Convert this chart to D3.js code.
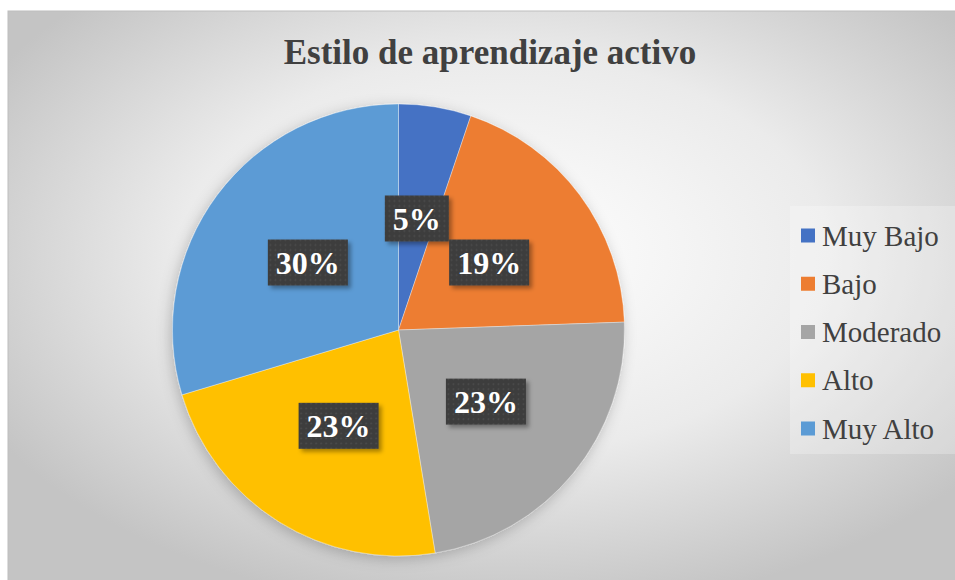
<!DOCTYPE html>
<html>
<head>
<meta charset="utf-8">
<script src="https://cdn.jsdelivr.net/npm/d3@7"></script>
<style>
  body { margin: 0; background: #fff; }
  svg { display: block; }
</style>
</head>
<body>
<svg></svg>
<script>
const categories = ["Muy Bajo", "Bajo", "Moderado", "Alto", "Muy Alto"];
const counts = [7, 26, 31, 31, 40];
const colors = ["#4472C4", "#ED7D31", "#A5A5A5", "#FFC000", "#5B9BD5"];
const title = "Estilo de aprendizaje activo";

const W = 955, H = 580;
const svg = d3.select("svg").attr("width", W).attr("height", H);
const defs = svg.append("defs");

// background gradient
const bg = defs.append("radialGradient").attr("id", "bg")
  .attr("cx", "52%").attr("cy", "42%").attr("r", "62%");
bg.append("stop").attr("offset", "0%").attr("stop-color", "#ffffff");
bg.append("stop").attr("offset", "55%").attr("stop-color", "#ebebeb");
bg.append("stop").attr("offset", "100%").attr("stop-color", "#c4c4c4");

const dots = defs.append("pattern").attr("id", "dots")
  .attr("width", 5).attr("height", 5).attr("patternUnits", "userSpaceOnUse");
dots.append("rect").attr("width", 5).attr("height", 5).attr("fill", "#3c3c3c");
dots.append("circle").attr("cx", 2.5).attr("cy", 2.5).attr("r", 1).attr("fill", "#4d4d4d");

const pieShadow = defs.append("filter").attr("id", "pieShadow")
  .attr("x", "-20%").attr("y", "-20%").attr("width", "140%").attr("height", "140%");
pieShadow.append("feDropShadow").attr("dx", -2).attr("dy", 3)
  .attr("stdDeviation", 7).attr("flood-color", "#000").attr("flood-opacity", 0.22);

const boxShadow = defs.append("filter").attr("id", "boxShadow")
  .attr("x", "-20%").attr("y", "-20%").attr("width", "150%").attr("height", "160%");
boxShadow.append("feDropShadow").attr("dx", 3).attr("dy", 3)
  .attr("stdDeviation", 2).attr("flood-color", "#000").attr("flood-opacity", 0.35);

svg.append("rect")
  .attr("x", 8).attr("y", 11).attr("width", W).attr("height", H)
  .attr("fill", "url(#bg)")
  .attr("stroke", "#bdbdbd").attr("stroke-width", 1);

svg.append("text")
  .attr("x", 490).attr("y", 64)
  .attr("text-anchor", "middle")
  .style("font-family", "'Liberation Serif', 'Times New Roman', serif")
  .style("font-weight", "bold")
  .style("font-size", "35px")
  .style("fill", "#404040")
  .text(title);

const cx = 398.5, cy = 330, radius = 226;
const total = d3.sum(counts);

const pie = d3.pie().sort(null).value(d => d)(counts);
const arc = d3.arc().innerRadius(0).outerRadius(radius);
const labelArc = d3.arc().innerRadius(radius * 0.5).outerRadius(radius * 0.5);

const g = svg.append("g").attr("transform", `translate(${cx},${cy})`);

g.append("g").attr("filter", "url(#pieShadow)")
  .selectAll("path")
  .data(pie)
  .enter().append("path")
  .attr("d", arc)
  .attr("fill", (d, i) => colors[i])
  .attr("stroke", "rgba(255,255,255,0.35)")
  .attr("stroke-width", 1);

const labels = g.selectAll(".lbl")
  .data(pie)
  .enter().append("g")
  .attr("class", "lbl")
  .attr("transform", d => `translate(${labelArc.centroid(d)})`);

labels.each(function(d) {
  const el = d3.select(this);
  const txt = Math.round(d.value / total * 100) + "%";
  const t = el.append("text")
    .attr("text-anchor", "middle")
    .attr("dy", "0.35em")
    .style("font-family", "'Liberation Serif', 'Times New Roman', serif")
    .style("font-weight", "bold")
    .style("font-size", "32px")
    .style("fill", "#fff")
    .text(txt);
  const bb = t.node().getBBox();
  el.insert("rect", "text")
    .attr("x", bb.x - 8).attr("y", -23)
    .attr("width", bb.width + 16).attr("height", 46)
    .attr("fill", "url(#dots)")
    .attr("filter", "url(#boxShadow)");
});

// legend
svg.append("rect")
  .attr("x", 790).attr("y", 206).attr("width", 165).attr("height", 248)
  .attr("fill", "#ffffff").attr("opacity", 0.25);

const legend = svg.append("g");
const ly = d3.scaleLinear().domain([0, 4]).range([235.5, 428.5]);
categories.forEach((c, i) => {
  legend.append("rect")
    .attr("x", 801).attr("y", ly(i) - 7)
    .attr("width", 14).attr("height", 14)
    .attr("fill", colors[i]);
  legend.append("text")
    .attr("x", 822).attr("y", ly(i))
    .attr("dy", "0.35em")
    .style("font-family", "'Liberation Serif', 'Times New Roman', serif")
    .style("font-size", "29px")
    .style("fill", "#404040")
    .text(c);
});
</script>
</body>
</html>
